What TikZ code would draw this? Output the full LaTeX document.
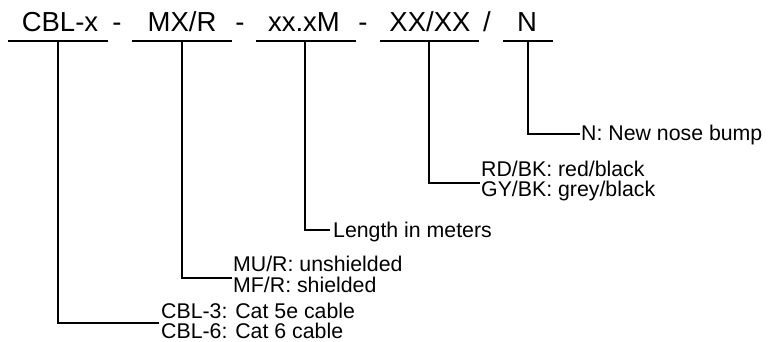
\documentclass[tikz,border=0pt]{standalone}
\usepackage{fontspec}
\setmainfont{Liberation Sans}
\begin{document}
\begin{tikzpicture}[x=1pt,y=-1pt,
  code/.style={anchor=base,inner sep=0pt,font=\fontsize{27.5}{30}\selectfont},
  lab/.style={anchor=base west,inner sep=0pt,font=\fontsize{21.3}{20}\selectfont},
  conn/.style={line width=1.5pt},
  uline/.style={line width=1.8pt}]
\useasboundingbox (0,0) rectangle (780,342);
% top code
\node[code] (c1) at (60,32) {CBL-x};
\node[code] (s1) at (117,32) {-};
\node[code] (c2) at (182,32) {MX/R};
\node[code] (s2) at (240,32) {-};
\node[code] (c3) at (304,32) {xx.xM};
\node[code] (s3) at (363,32) {-};
\node[code] (c4) at (430,32) {XX/XX};
\node[code] (s4) at (487,32) {/};
\node[code] (c5) at (527,32) {N};
% underlines
\coordinate (u1a) at (8,41);   \coordinate (u1b) at (108,41);
\coordinate (u2a) at (132,41); \coordinate (u2b) at (232,41);
\coordinate (u3a) at (256,41); \coordinate (u3b) at (356,41);
\coordinate (u4a) at (380,41); \coordinate (u4b) at (479,41);
\coordinate (u5a) at (503,41); \coordinate (u5b) at (553,41);
\foreach \i in {1,...,5} \draw[uline] (u\i a) -- (u\i b);
% labels
\node[lab] (l5) at (581,141) {N: New nose bump};
\node[lab] (l4a) at (481,177) {RD/BK: red/black};
\node[lab] (l4b) at (481,197) {GY/BK: grey/black};
\node[lab] (l3) at (333,237) {Length in meters};
\node[lab] (l2a) at (233,272) {MU/R: unshielded};
\node[lab] (l2b) at (233,292) {MF/R: shielded};
\node[lab] (l1a) at (161,318) {CBL-3: Cat 5e cable};
\node[lab] (l1b) at (161,338) {CBL-6: Cat 6 cable};
% connector corners
\coordinate (t5) at (528,41); \coordinate (k5) at (528,134); \coordinate (e5) at (580,134);
\coordinate (t4) at (429,41); \coordinate (k4) at (429,183); \coordinate (e4) at (480,183);
\coordinate (t3) at (305,41); \coordinate (k3) at (305,230); \coordinate (e3) at (330,230);
\coordinate (t2) at (182,41); \coordinate (k2) at (182,278); \coordinate (e2) at (232,278);
\coordinate (t1) at (58,41);  \coordinate (k1) at (58,323);  \coordinate (e1) at (159,323);
\foreach \i in {1,...,5} \draw[conn] (t\i) -- (k\i) -- (e\i);
\end{tikzpicture}
\end{document}
